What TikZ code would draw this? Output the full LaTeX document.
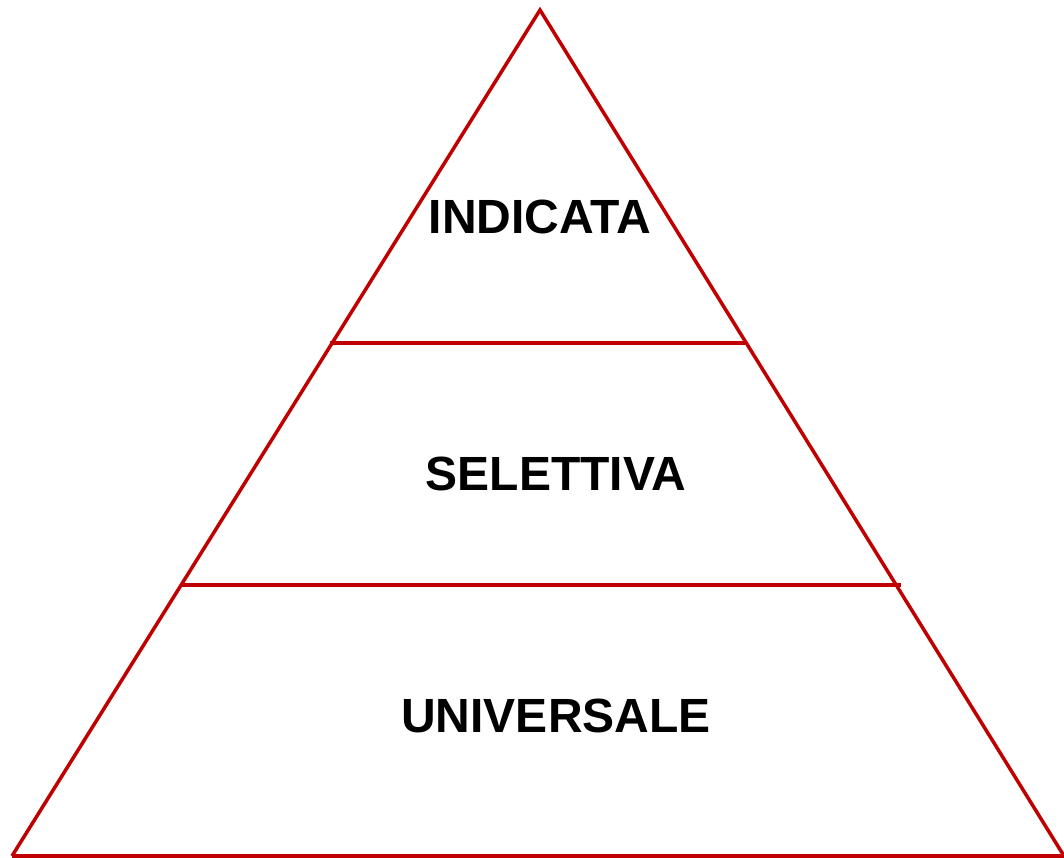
\documentclass[tikz,border=0pt]{standalone}
\usepackage{fontspec}
\setmainfont{Liberation Sans}
\definecolor{pyrred}{RGB}{192,0,0}
\tikzset{
  edge/.style={draw=pyrred, line width=3.5pt},
  label/.style={font=\fontsize{48}{50}\selectfont\bfseries, text=black, inner sep=0pt, anchor=center}
}
\begin{document}
\begin{tikzpicture}[x=1pt,y=-1pt]
\useasboundingbox (0,0) rectangle (1064,858);
\coordinate (apex) at (540,10);
\coordinate (bl) at (12,856);
\coordinate (br) at (1064,856);
\coordinate (rend) at (1066,859.2);
\coordinate (l1) at (330,343);
\coordinate (r1) at (745,343);
\coordinate (l2) at (180,585);
\coordinate (r2) at (901,585);
\draw[edge, line join=miter] (bl) -- (apex) -- (rend);
\draw[edge] (bl) -- (br);
\draw[edge] (l1) -- (r1);
\draw[edge] (l2) -- (r2);
\node[label] (ind) at (540,217) {INDICATA};
\node[label] (sel) at (556,474) {SELETTIVA};
\node[label] (uni) at (556,716) {UNIVERSALE};
\end{tikzpicture}
\end{document}
